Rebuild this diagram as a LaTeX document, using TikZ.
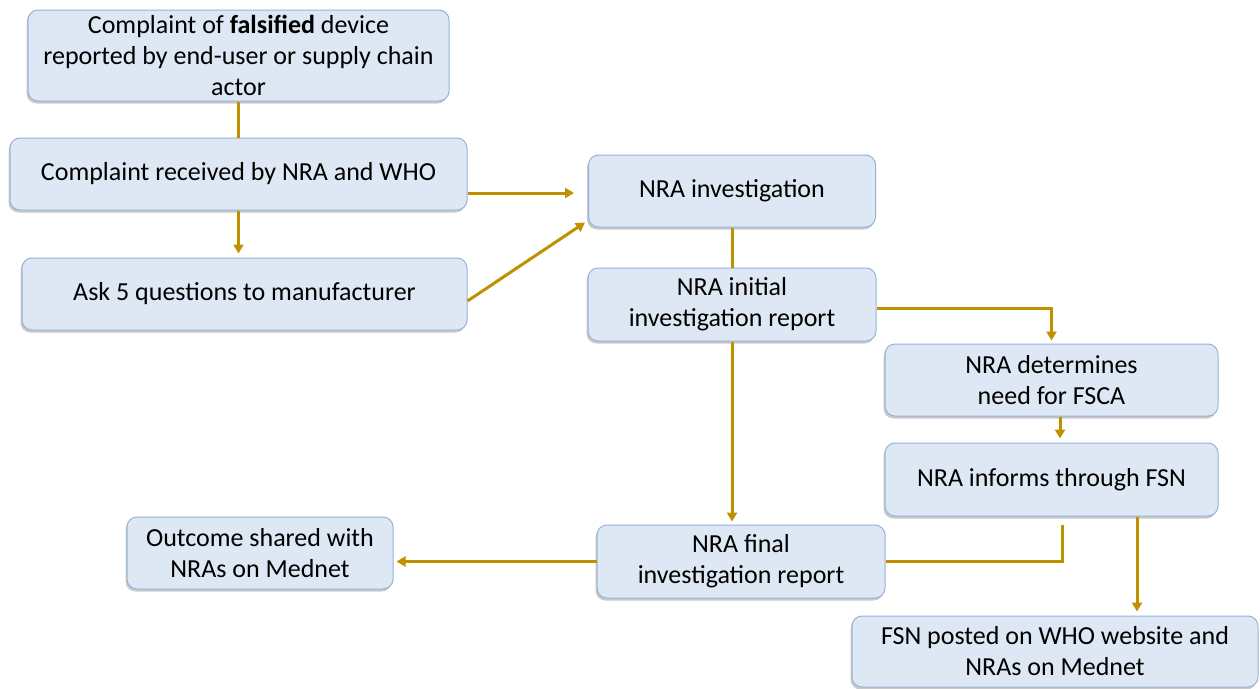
\documentclass[tikz,border=0pt]{standalone}
\usepackage{fontspec}
\setmainfont{Carlito}
\usepackage{tikz}
\usetikzlibrary{arrows.meta, positioning, calc, shadows}
\definecolor{BoxFill}{RGB}{221,232,244}
\definecolor{BoxLine}{RGB}{149,179,215}
\definecolor{FlowGold}{RGB}{191,144,0}

\begin{document}
\begin{tikzpicture}[x=1pt,y=-1pt,
    box/.style={draw=BoxLine,line width=1pt,fill=BoxFill,rounded corners=10pt,
      align=center,inner sep=0pt,font=\fontsize{26}{31}\selectfont,
      drop shadow={shadow xshift=-1.5pt,shadow yshift=-2.5pt,opacity=0.3,fill=black!70}},
    conn/.style={FlowGold,line width=3pt},
    arr/.style={conn,-{Triangle[length=9pt,width=10pt]}}]
  \useasboundingbox (0,0) rectangle (1260,688);
  % Left column
  \node[box,minimum width=421pt,minimum height=91pt] (report) at (238.5,55.5)
    {Complaint of \textbf{falsified} device\\reported by end-user or supply chain\\actor};
  \node[box,minimum width=457pt,minimum height=72pt] (recv) at (238.5,174)
    {Complaint received by NRA and WHO};
  \node[box,minimum width=445pt,minimum height=72pt] (ask) at (244.5,294)
    {Ask 5 questions to manufacturer};
  % Middle column
  \node[box,minimum width=287pt,minimum height=72pt] (inv) at (732,191)
    {NRA investigation};
  \node[box,minimum width=288pt,minimum height=73pt] (init) at (732,304.5)
    {NRA initial\\investigation report};
  \node[box,minimum width=288pt,minimum height=73pt] (final) at (741,561.5)
    {NRA final\\investigation report};
  \node[box,minimum width=266pt,minimum height=72pt] (outc) at (260,553)
    {Outcome shared with\\NRAs on Mednet};
  % Right column
  \node[box,minimum width=333pt,minimum height=72pt] (det) at (1051.5,380)
    {NRA determines\\need for FSCA};
  \node[box,minimum width=333pt,minimum height=73pt] (inform) at (1051.5,479.5)
    {NRA informs through FSN};
  \node[box,minimum width=406pt,minimum height=71pt] (fsn) at (1055,651.5)
    {FSN posted on WHO website and\\NRAs on Mednet};
  % Connectors
  \draw[conn] (report) -- (recv);
  \draw[arr,shorten >=4pt] (recv.south) -- (recv.south |- ask.north);
  \draw[arr,shorten >=14pt] ([yshift=-19pt]recv.east) -- ([yshift=-19pt]recv.east -| inv.west);
  \draw[arr] ([yshift=-7pt]ask.east) -- ([xshift=-3pt,yshift=5pt]inv.south west);
  \draw[conn] (inv) -- (init);
  \draw[arr,shorten >=3pt] ([yshift=-3.5pt]init.east) -| (det.north);
  \draw[arr,shorten >=3pt] (init.south) -- (init.south |- final.north);
  \draw[arr,shorten >=4pt] ([xshift=8.5pt]det.south) -- ([xshift=8.5pt]det.south |- inform.north);
  \draw[conn] ([xshift=10.5pt,yshift=-8pt]inform.south) |- (final.east);
  \draw[arr,shorten >=4pt] ([xshift=85.5pt]inform.south) -- ([xshift=85.5pt]inform.south |- fsn.north);
  \draw[arr,shorten >=3pt] (final.west) -- (final.west -| outc.east);
\end{tikzpicture}
\end{document}
